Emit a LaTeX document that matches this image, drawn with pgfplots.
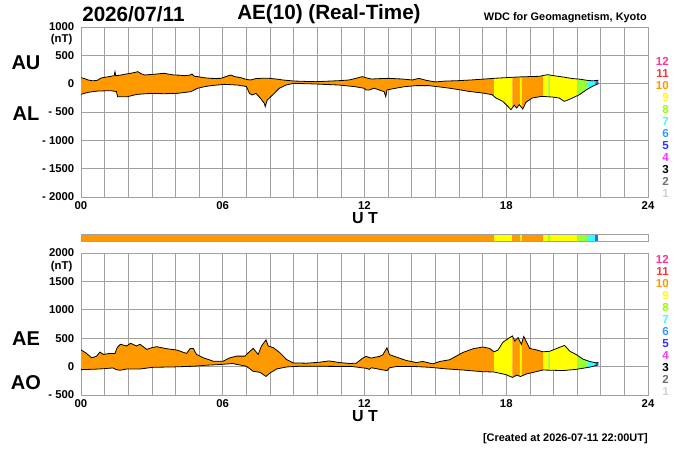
\documentclass[border=0pt]{standalone}
\usepackage{fontspec}
\setmainfont{Liberation Sans}
\usepackage{pgfplots}
\pgfplotsset{compat=1.18}
\usepackage{pgfplotstable}
\usepgfplotslibrary{fillbetween}

\definecolor{cOr}{HTML}{FF9900}
\definecolor{cYe}{HTML}{FFFF00}
\definecolor{cGr}{HTML}{99FF33}
\definecolor{cCy}{HTML}{33FFFF}
\definecolor{cBl}{HTML}{3366FF}
\definecolor{gGrid}{HTML}{A0A0A0}
\definecolor{n12}{HTML}{FF3399}
\definecolor{n11}{HTML}{FF3333}
\definecolor{n10}{HTML}{FF9900}
\definecolor{n9}{HTML}{FFFF00}
\definecolor{n8}{HTML}{99FF00}
\definecolor{n7}{HTML}{33FFFF}
\definecolor{n6}{HTML}{3399FF}
\definecolor{n5}{HTML}{3333FF}
\definecolor{n4}{HTML}{FF33FF}
\definecolor{n3}{HTML}{000000}
\definecolor{n2}{HTML}{707070}
\definecolor{n1}{HTML}{D0D0D0}

\pgfplotstableread{
t v
0.00 106
0.15 90
0.30 65
0.50 50
0.70 60
0.85 100
1.00 112
1.20 125
1.40 141
1.44 212
1.47 140
1.70 153
1.90 170
2.10 183
2.30 200
2.40 212
2.55 175
2.70 153
2.90 160
3.10 165
3.30 175
3.52 183
3.75 165
3.94 153
4.15 150
4.37 141
4.60 150
4.70 170
4.80 130
4.93 124
5.20 105
5.49 94
5.70 92
5.92 94
6.10 120
6.34 153
6.50 125
6.76 106
7.00 75
7.18 65
7.40 90
7.60 94
7.97 94
8.30 80
8.54 65
8.80 55
9.00 47
9.50 40
9.94 35
10.50 45
10.93 53
11.35 65
11.60 90
11.90 124
12.10 100
12.30 82
12.70 90
13.04 94
13.30 88
13.60 82
14.03 65
14.30 94
14.60 60
15.00 30
15.40 45
15.96 53
16.50 65
17.10 82
17.50 95
18.07 108
18.50 118
19.00 125
19.40 130
19.75 159
20.00 141
20.40 118
20.80 90
21.10 80
21.40 60
21.65 50
21.90 60
}\AUtab

\pgfplotstableread{
t v
0.00 -188
0.15 -170
0.30 -153
0.70 -130
1.27 -124
1.50 -140
1.55 -230
1.97 -230
2.20 -205
2.39 -188
2.96 -171
3.52 -177
4.08 -171
4.65 -141
4.93 -82
5.20 -55
5.49 -35
6.06 -12
6.62 -24
7.00 -50
7.13 -171
7.25 -200
7.41 -171
7.60 -260
7.76 -348
7.80 -406
7.88 -290
8.11 -200
8.39 -82
8.68 -24
9.00 6
9.94 -6
10.93 -24
11.60 -53
12.00 -82
12.05 -110
12.20 -112
12.40 -80
12.83 -141
12.90 -230
12.95 -110
13.30 -82
13.70 -53
14.17 -35
14.73 -35
15.20 -59
15.60 -80
16.00 -106
16.40 -135
17.00 -165
17.40 -194
17.56 -253
17.85 -312
18.00 -371
18.20 -459
18.34 -380
18.44 -430
18.55 -370
18.70 -448
18.83 -330
19.10 -253
19.50 -224
19.96 -236
20.24 -253
20.45 -312
20.60 -290
20.80 -253
21.10 -194
21.40 -106
21.65 -47
21.90 0
}\ALtab

\pgfplotstableread{
t v
0.00 292
0.20 244
0.45 155
0.66 184
0.80 256
0.95 214
1.22 232
1.44 232
1.53 333
1.67 393
1.93 363
2.10 410
2.35 363
2.50 393
2.78 303
3.00 333
3.20 351
3.62 315
4.05 292
4.47 232
4.61 315
4.75 321
4.89 214
5.18 155
5.60 95
6.02 95
6.30 155
6.59 184
6.94 184
7.08 244
7.29 321
7.50 214
7.64 363
7.83 470
7.93 363
8.14 333
8.42 244
8.70 125
8.98 65
9.55 60
10.10 77
10.50 100
10.96 70
11.38 55
11.65 60
11.93 150
12.07 180
12.28 150
12.64 180
12.78 210
12.95 331
13.06 210
13.34 169
13.77 108
14.19 72
14.47 90
14.90 48
15.18 90
15.60 120
16.17 250
16.60 315
17.00 345
17.30 320
17.48 260
17.65 290
17.86 430
18.07 490
18.26 540
18.36 451
18.50 512
18.64 391
18.74 530
18.85 440
18.99 320
19.27 295
19.56 260
19.84 270
20.26 340
20.47 373
20.69 271
20.97 210
21.25 132
21.53 90
21.82 65
21.90 75
}\AEtab

\pgfplotstableread{
t v
0.00 -54
0.80 -42
1.35 -24
1.50 -54
1.65 -65
1.93 -42
2.50 -42
3.05 -12
3.90 -6
4.75 6
5.30 24
5.85 36
6.42 54
7.00 6
7.29 -83
7.58 -101
7.83 -173
8.00 -113
8.28 -42
8.70 -6
9.25 6
10.10 6
11.50 0
12.07 -30
12.20 -48
12.30 -20
12.95 -72
13.06 -20
13.34 0
14.19 0
14.75 -12
15.46 -40
16.17 -60
17.00 -90
17.48 -95
17.98 -140
18.26 -190
18.45 -150
18.60 -175
18.85 -130
19.56 -60
20.40 -70
20.97 -48
21.53 -10
21.90 30
}\AOtab

\pgfplotsset{
  panel/.style={
    scale only axis, width=425.25pt, anchor=south west,
    xmin=0, xmax=24,
    xtick={0,6,12,18,24}, xticklabels={00,06,12,18,24},
    minor xtick={1,2,3,4,5,7,8,9,10,11,13,14,15,16,17,19,20,21,22,23},
    grid=both,
    major grid style={draw=gGrid, line width=0.5pt},
    minor grid style={draw=gGrid, line width=0.5pt},
    axis line style={draw=gGrid, line width=0.5pt},
    major tick length=0pt, minor tick length=0pt,
    ticklabel style={font=\bfseries\fontsize{8.5}{10}\selectfont},
    yticklabel style={xshift=-1.5pt},
  },
  curve/.style={black, line width=0.6pt, no marks},
}

% colour segment between two named curves
\newcommand\seg[4]{\addplot[#1] fill between[of=#2, soft clip={(axis cs:#3,-3000) rectangle (axis cs:#4,3000)}];}
\newcommand\allsegs[1]{%
  \seg{cOr}{#1}{-1}{17.49}
  \seg{cYe}{#1}{17.49}{18.26}
  \seg{cOr}{#1}{18.26}{18.58}
  \seg{cYe}{#1}{18.58}{18.65}
  \seg{cOr}{#1}{18.65}{19.57}
  \seg{cYe}{#1}{19.57}{19.78}
  \seg{cGr}{#1}{19.78}{19.85}
  \seg{cYe}{#1}{19.85}{21.0}
  \seg{cGr}{#1}{21.0}{21.43}
  \seg{cCy}{#1}{21.43}{21.77}
  \seg{cBl}{#1}{21.77}{23}
}

\begin{document}
\begin{tikzpicture}
\path (0,0) rectangle (525pt,337.5pt);

% ---------- top panel: AU / AL ----------
\begin{axis}[panel, at={(60.75pt,189.75pt)}, height=127.5pt,
  ymin=-2000, ymax=1000,
  ytick={-2000,-1500,-1000,-500,0,500,1000},
  yticklabels={- 2000,- 1500,- 1000,- 500,0,500,1000}]
  \addplot[curve, name path=AU] table[x=t,y=v] {\AUtab};
  \addplot[curve, name path=AL] table[x=t,y=v] {\ALtab};
  \allsegs{AU and AL}
\end{axis}

% ---------- colour bar ----------
\begin{axis}[scale only axis, width=425.25pt, height=5.25pt, anchor=south west,
  at={(60.75pt,156.75pt)}, xmin=0, xmax=24, ymin=0, ymax=1,
  xtick=\empty, ytick=\empty, axis on top,
  axis line style={draw=gGrid, line width=0.5pt}]
  \addplot[fill=cOr, draw=none] coordinates {(0,1) (17.49,1)} \closedcycle;
  \addplot[fill=cYe, draw=none] coordinates {(17.49,1) (18.26,1)} \closedcycle;
  \addplot[fill=cOr, draw=none] coordinates {(18.26,1) (18.58,1)} \closedcycle;
  \addplot[fill=cYe, draw=none] coordinates {(18.58,1) (18.65,1)} \closedcycle;
  \addplot[fill=cOr, draw=none] coordinates {(18.65,1) (19.57,1)} \closedcycle;
  \addplot[fill=cYe, draw=none] coordinates {(19.57,1) (19.78,1)} \closedcycle;
  \addplot[fill=cGr, draw=none] coordinates {(19.78,1) (19.85,1)} \closedcycle;
  \addplot[fill=cYe, draw=none] coordinates {(19.85,1) (21.0,1)} \closedcycle;
  \addplot[fill=cGr, draw=none] coordinates {(21.0,1) (21.43,1)} \closedcycle;
  \addplot[fill=cCy, draw=none] coordinates {(21.43,1) (21.77,1)} \closedcycle;
  \addplot[fill=cBl, draw=none] coordinates {(21.77,1) (21.88,1)} \closedcycle;
\end{axis}

% ---------- bottom panel: AE / AO ----------
\begin{axis}[panel, at={(60.75pt,41.25pt)}, height=106.5pt,
  ymin=-500, ymax=2000,
  ytick={-500,0,500,1000,1500,2000},
  yticklabels={- 500,0,500,1000,1500,2000}]
  \addplot[curve, name path=AE] table[x=t,y=v] {\AEtab};
  \addplot[curve, name path=AO] table[x=t,y=v] {\AOtab};
  \allsegs{AE and AO}
\end{axis}

% ---------- texts (pixel coordinates, y downward) ----------
\begin{scope}[x=0.75pt, y=-0.75pt, shift={(0pt,337.5pt)}]
  \node[anchor=west, inner sep=0pt, font=\bfseries\fontsize{15.5}{18}\selectfont] at (82,14.5) {2026/07/11};
  \node[anchor=west, inner sep=0pt, font=\bfseries\fontsize{15.5}{18}\selectfont] at (237,14.5) {AE(10) (Real-Time)};
  \node[anchor=east, inner sep=0pt, font=\bfseries\fontsize{8.2}{10}\selectfont] at (647,17.5) {WDC for Geomagnetism, Kyoto};
  \node[font=\bfseries\fontsize{15}{18}\selectfont] at (26,63) {AU};
  \node[font=\bfseries\fontsize{15}{18}\selectfont] at (26,114) {AL};
  \node[font=\bfseries\fontsize{15}{18}\selectfont] at (26,338.5) {AE};
  \node[font=\bfseries\fontsize{15}{18}\selectfont] at (26,382.5) {AO};
  \node[anchor=east, font=\bfseries\fontsize{8.5}{10}\selectfont] at (77,40) {(nT)};
  \node[anchor=east, font=\bfseries\fontsize{8.5}{10}\selectfont] at (77,267) {(nT)};
  \node[font=\bfseries\fontsize{12}{14}\selectfont] at (365,218) {U T};
  \node[font=\bfseries\fontsize{12}{14}\selectfont] at (365,416) {U T};
  \node[anchor=east, inner sep=0pt, font=\bfseries\fontsize{8.2}{10}\selectfont] at (648,439) {[Created at 2026-07-11 22:00UT]};
  \foreach \n/\c [count=\i from 0] in {12/n12,11/n11,10/n10,9/n9,8/n8,7/n7,6/n6,5/n5,4/n4,3/n3,2/n2,1/n1}{
    \node[anchor=east, inner sep=0pt, text=\c, font=\bfseries\fontsize{8.7}{10}\selectfont] at (669,{61+12.05*\i}) {\n};
    \node[anchor=east, inner sep=0pt, text=\c, font=\bfseries\fontsize{8.7}{10}\selectfont] at (669,{259+12.09*\i}) {\n};
  }
\end{scope}
\end{tikzpicture}
\end{document}
